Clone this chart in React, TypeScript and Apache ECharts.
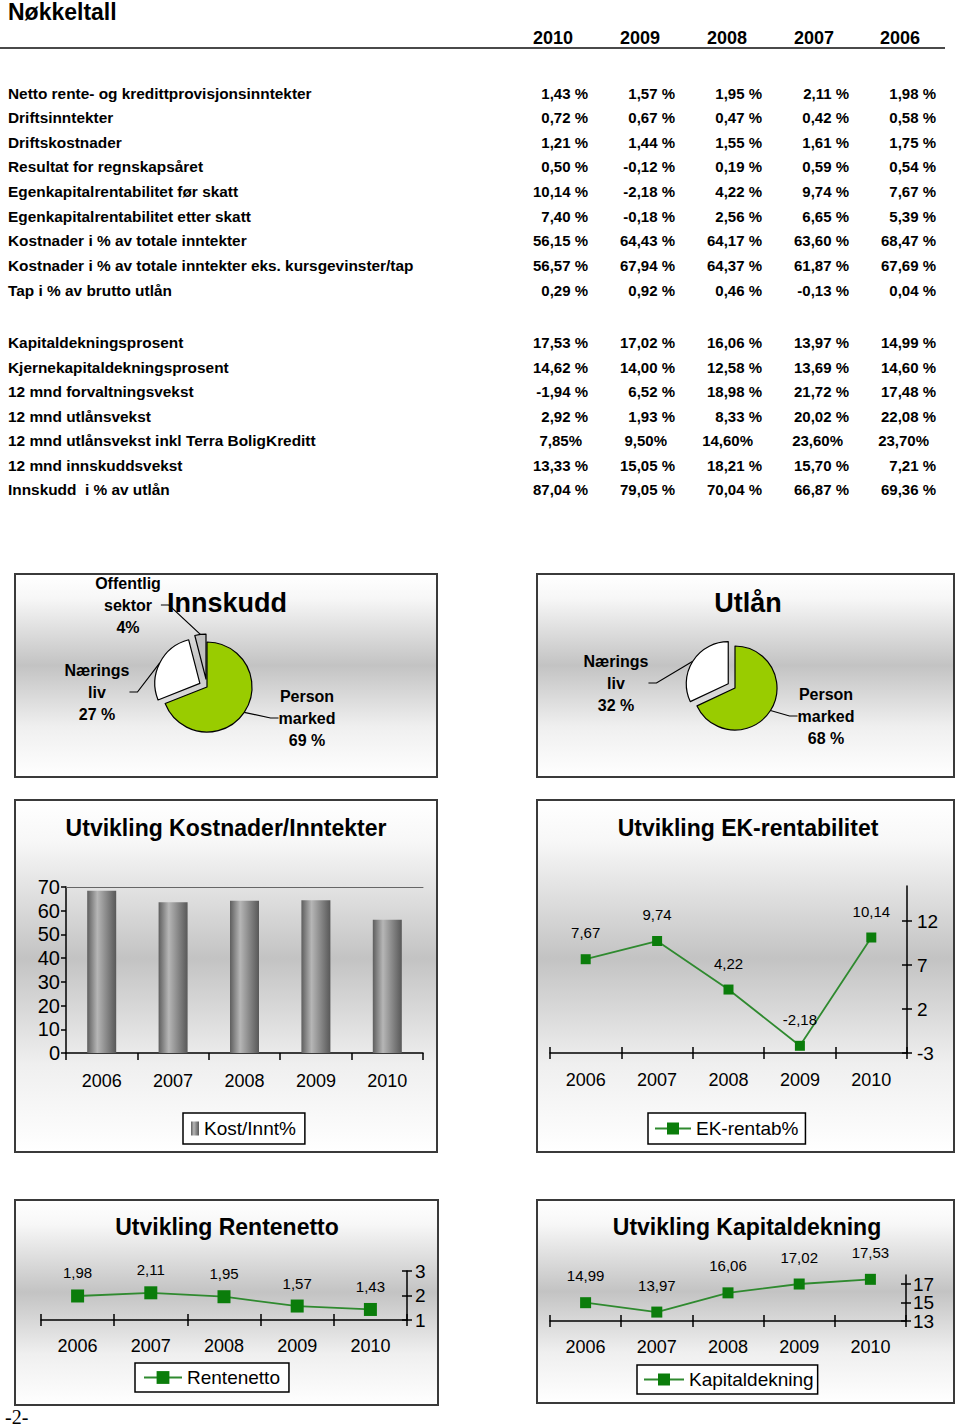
import React, { useEffect, useRef } from 'react';
import * as echarts from 'echarts';

const FONT = '"Liberation Sans", Arial, Helvetica, sans-serif';

// ---------- table data ----------
const pageTitle = 'Nøkkeltall';
const tableYears = ['2010', '2009', '2008', '2007', '2006'];

const resultLabels = [
  'Netto rente- og kredittprovisjonsinntekter',
  'Driftsinntekter',
  'Driftskostnader',
  'Resultat for regnskapsåret',
  'Egenkapitalrentabilitet før skatt',
  'Egenkapitalrentabilitet etter skatt',
  'Kostnader i % av totale inntekter',
  'Kostnader i % av totale inntekter eks. kursgevinster/tap',
  'Tap i % av brutto utlån',
];
const resultValues = [
  ['1,43 %', '1,57 %', '1,95 %', '2,11 %', '1,98 %'],
  ['0,72 %', '0,67 %', '0,47 %', '0,42 %', '0,58 %'],
  ['1,21 %', '1,44 %', '1,55 %', '1,61 %', '1,75 %'],
  ['0,50 %', '-0,12 %', '0,19 %', '0,59 %', '0,54 %'],
  ['10,14 %', '-2,18 %', '4,22 %', '9,74 %', '7,67 %'],
  ['7,40 %', '-0,18 %', '2,56 %', '6,65 %', '5,39 %'],
  ['56,15 %', '64,43 %', '64,17 %', '63,60 %', '68,47 %'],
  ['56,57 %', '67,94 %', '64,37 %', '61,87 %', '67,69 %'],
  ['0,29 %', '0,92 %', '0,46 %', '-0,13 %', '0,04 %'],
];
const balanceLabels = [
  'Kapitaldekningsprosent',
  'Kjernekapitaldekningsprosent',
  '12 mnd forvaltningsvekst',
  '12 mnd utlånsvekst',
  '12 mnd utlånsvekst inkl Terra BoligKreditt',
  '12 mnd innskuddsvekst',
  'Innskudd  i % av utlån',
];
const balanceValues = [
  ['17,53 %', '17,02 %', '16,06 %', '13,97 %', '14,99 %'],
  ['14,62 %', '14,00 %', '12,58 %', '13,69 %', '14,60 %'],
  ['-1,94 %', '6,52 %', '18,98 %', '21,72 %', '17,48 %'],
  ['2,92 %', '1,93 %', '8,33 %', '20,02 %', '22,08 %'],
  ['7,85%', '9,50%', '14,60%', '23,60%', '23,70%'],
  ['13,33 %', '15,05 %', '18,21 %', '15,70 %', '7,21 %'],
  ['87,04 %', '79,05 %', '70,04 %', '66,87 %', '69,36 %'],
];

// ---------- chart data ----------
const chartYears = ['2006', '2007', '2008', '2009', '2010'];
const kostInntValues = [68.47, 63.6, 64.17, 64.43, 56.15];
const ekRentabValues = [7.67, 9.74, 4.22, -2.18, 10.14];
const rentenettoValues = [1.98, 2.11, 1.95, 1.57, 1.43];
const kapitalValues = [14.99, 13.97, 16.06, 17.02, 17.53];
const ekTicks = [-3, 2, 7, 12];
const renteTicks = [1, 2, 3];
const kapitalTicks = [13, 15, 17];

const innskuddNames = ['Person marked', 'Nærings liv', 'Offentlig sektor'];
const innskuddValues = [69, 27, 4];
const innskuddPct = ['69 %', '27 %', '4%'];
const utlanNames = ['Person marked', 'Nærings liv'];
const utlanValues = [68, 32];
const utlanPct = ['68 %', '32 %'];

const chartTitles = {
  innskudd: 'Innskudd',
  utlan: 'Utlån',
  kost: 'Utvikling Kostnader/Inntekter',
  ek: 'Utvikling EK-rentabilitet',
  rente: 'Utvikling Rentenetto',
  kapital: 'Utvikling Kapitaldekning',
};
const seriesNames = {
  kost: 'Kost/Innt%',
  ek: 'EK-rentab%',
  rente: 'Rentenetto',
  kapital: 'Kapitaldekning',
};

// ---------- layout ----------
const VALUE_RIGHT = [588, 675, 762, 849, 936];
const VALUE_RIGHT_ALT = [582, 667, 753, 843, 929];
const YEAR_CX = [553, 640, 727, 814, 900];
const ROW_A_Y0 = 93;
const ROW_A_STEP = 24.65;
const ROW_B_Y0 = 342.5;
const ROW_B_STEP = 24.5;

const BOXES = [
  [15, 574, 422, 203],
  [537, 574, 417, 203],
  [15, 800, 422, 352],
  [537, 800, 417, 352],
  [15, 1200, 423, 205],
  [537, 1200, 417, 203],
];

const GREEN_LINE = '#2f8a2f';
const GREEN_MARK = '#0b7d0b';
const AXIS_LINE = { color: '#000', width: 1.5 };

function boxFill() {
  return new echarts.graphic.LinearGradient(0, 0, 0, 1, [
    { offset: 0, color: '#ffffff' },
    { offset: 0.12, color: '#f7f7f7' },
    { offset: 0.45, color: '#c3c3c3' },
    { offset: 0.75, color: '#efefef' },
    { offset: 1, color: '#ffffff' },
  ]);
}

function txt(text: string, x: number, y: number, size: number, opts: any = {}) {
  return {
    type: 'text',
    x,
    y,
    z: 10,
    silent: true,
    style: {
      text,
      fontSize: size,
      fontWeight: opts.weight ?? 'bold',
      fontFamily: opts.family ?? FONT,
      fill: '#000',
      align: opts.align ?? 'left',
      verticalAlign: 'middle',
    },
  };
}

const fmt = (v: number) => v.toFixed(2).replace('.', ',');

function buildOption() {
  const graphic: any[] = [];
  BOXES.forEach(([x, y, w, h]) => {
    graphic.push({
      type: 'rect',
      z: -10,
      silent: true,
      shape: { x, y, width: w, height: h },
      style: { fill: boxFill(), stroke: '#3a3a3a', lineWidth: 2 },
    });
  });
  graphic.push(txt(pageTitle, 8, 12, 23));
  tableYears.forEach((yr, i) => graphic.push(txt(yr, YEAR_CX[i], 38, 18, { align: 'center' })));
  graphic.push({
    type: 'line',
    z: 10,
    silent: true,
    shape: { x1: 0, y1: 48, x2: 945, y2: 48 },
    style: { stroke: '#4a4a4a', lineWidth: 2 },
  });
  const addRows = (labels: string[], values: string[][], y0: number, step: number) => {
    labels.forEach((lab, r) => {
      const y = y0 + r * step;
      graphic.push(txt(lab, 8, y, 15.4));
      values[r].forEach((v, c) => {
        const xr = v.endsWith(' %') ? VALUE_RIGHT[c] : VALUE_RIGHT_ALT[c];
        graphic.push(txt(v, xr, y, 15, { align: 'right' }));
      });
    });
  };
  addRows(resultLabels, resultValues, ROW_A_Y0, ROW_A_STEP);
  addRows(balanceLabels, balanceValues, ROW_B_Y0, ROW_B_STEP);

  graphic.push(txt(chartTitles.innskudd, 227, 603, 27, { align: 'center' }));
  graphic.push(txt(chartTitles.utlan, 748, 603, 27, { align: 'center' }));
  graphic.push(txt(chartTitles.kost, 226, 828, 23, { align: 'center' }));
  graphic.push(txt(chartTitles.ek, 748, 828, 23, { align: 'center' }));
  graphic.push(txt(chartTitles.rente, 227, 1227, 23, { align: 'center' }));
  graphic.push(txt(chartTitles.kapital, 747, 1227, 23, { align: 'center' }));
  graphic.push(txt('-2-', 5, 1417, 20, { weight: 'normal', family: '"Liberation Serif", "DejaVu Serif", serif' }));

  const grid: any[] = [];
  const xAxis: any[] = [];
  const yAxis: any[] = [];
  const series: any[] = [];

  // ----- bar chart -----
  grid.push({ left: 66, top: 887, width: 357, height: 166, outerBoundsMode: 'none', containLabel: false });
  xAxis.push({
    type: 'category',
    gridIndex: 0,
    position: 'bottom',
    data: chartYears,
    boundaryGap: true,
    axisLine: { show: true, onZero: false, lineStyle: AXIS_LINE },
    axisTick: { show: true, length: 7, lineStyle: AXIS_LINE },
    axisLabel: { margin: 19, fontSize: 18, color: '#000', fontFamily: FONT },
  });
  xAxis.push({
    type: 'category',
    gridIndex: 0,
    position: 'top',
    data: chartYears,
    axisLine: { show: true, onZero: false, lineStyle: { color: '#666', width: 1 } },
    axisTick: { show: false },
    axisLabel: { show: false },
  });
  yAxis.push({
    type: 'value',
    gridIndex: 0,
    position: 'left',
    min: 0,
    max: 70,
    interval: 10,
    splitLine: { show: false },
    axisLine: { show: true, lineStyle: AXIS_LINE },
    axisTick: { show: true, length: 5, lineStyle: AXIS_LINE },
    axisLabel: { margin: 6, fontSize: 20, lineHeight: 18, color: '#000', fontFamily: FONT, showMinLabel: true, showMaxLabel: true },
  });
  series.push({
    type: 'bar',
    name: seriesNames.kost,
    xAxisIndex: 0,
    yAxisIndex: 0,
    barWidth: 29,
    data: kostInntValues,
    itemStyle: {
      color: new echarts.graphic.LinearGradient(0, 0, 1, 0, [
        { offset: 0, color: '#5e5e5e' },
        { offset: 0.35, color: '#b6b6b6' },
        { offset: 1, color: '#585858' },
      ]),
    },
  });

  // ----- line charts -----
  const addLine = (cfg: any) => {
    const gi = grid.length;
    grid.push({ left: cfg.left, top: cfg.top, width: cfg.width, height: cfg.height, outerBoundsMode: 'none', containLabel: false });
    const xi = xAxis.length;
    const xBase = { type: 'category', gridIndex: gi, position: 'bottom', data: chartYears, boundaryGap: true };
    xAxis.push({
      ...xBase,
      axisLine: { show: true, onZero: false, lineStyle: AXIS_LINE },
      axisTick: { show: true, inside: false, length: 6, lineStyle: AXIS_LINE },
      axisLabel: { margin: cfg.xMargin, fontSize: 18, color: '#000', fontFamily: FONT },
    });
    xAxis.push({
      ...xBase,
      axisLine: { show: false, onZero: false },
      axisTick: { show: true, inside: true, length: 6, lineStyle: AXIS_LINE },
      axisLabel: { show: false },
    });
    const yi = yAxis.length;
    const ticks: number[] = cfg.ticks;
    // labels split over the two overlaid axes so that close labels are never auto-hidden
    const labelsA = ticks.filter((_, i) => i % 2 === 0);
    const labelsB = ticks.filter((_, i) => i % 2 === 1);
    const yLabel = {
      margin: cfg.yMargin,
      fontSize: 19,
      color: '#000',
      fontFamily: FONT,
      showMinLabel: true,
      showMaxLabel: true,
      hideOverlap: false,
    };
    const yBase = { type: 'value', gridIndex: gi, position: 'right', min: cfg.min, max: cfg.max, splitLine: { show: false } };
    yAxis.push({
      ...yBase,
      axisLine: { show: true, lineStyle: AXIS_LINE },
      axisTick: { show: true, inside: false, length: 5, customValues: ticks, lineStyle: AXIS_LINE },
      axisLabel: { ...yLabel, customValues: labelsA },
    });
    yAxis.push({
      ...yBase,
      axisLine: { show: false },
      axisTick: { show: true, inside: true, length: 5, customValues: ticks, lineStyle: AXIS_LINE },
      axisLabel: { ...yLabel, show: labelsB.length > 0, customValues: labelsB },
    });
    series.push({
      type: 'line',
      name: cfg.name,
      xAxisIndex: xi,
      yAxisIndex: yi,
      data: cfg.data,
      symbol: 'rect',
      symbolSize: cfg.symbolSize,
      lineStyle: { color: GREEN_LINE, width: 1.8 },
      itemStyle: { color: GREEN_MARK },
      label: {
        show: true,
        position: 'top',
        distance: cfg.labelDist,
        formatter: (p: any) => fmt(p.value),
        fontSize: 15,
        color: '#000',
        fontFamily: FONT,
      },
    });
  };
  addLine({ left: 550, top: 886, width: 357, height: 167, min: -3, max: 16, ticks: ekTicks, data: ekRentabValues, name: seriesNames.ek, symbolSize: 10, labelDist: 14, xMargin: 18, yMargin: 10 });
  addLine({ left: 41, top: 1271, width: 366, height: 49, min: 1, max: 3, ticks: renteTicks, data: rentenettoValues, name: seriesNames.rente, symbolSize: 13, labelDist: 9, xMargin: 17, yMargin: 8 });
  addLine({ left: 550, top: 1275, width: 356, height: 46, min: 13, max: 18, ticks: kapitalTicks, data: kapitalValues, name: seriesNames.kapital, symbolSize: 11, labelDist: 14, xMargin: 17, yMargin: 7 });

  // ----- pies: one series per slice so that exploded slices are offset from the centre -----
  const pieSlices = (
    center: number[],
    r: number,
    explode: number,
    names: string[],
    values: number[],
    pct: string[],
    colors: string[],
    labelPos: number[][],
  ) => {
    const total = values.reduce((a, b) => a + b, 0);
    let cum = 0;
    return values.map((v, i) => {
      const midDeg = 90 - ((cum + v / 2) / total) * 360;
      cum += v;
      const off = i === 0 ? 0 : explode;
      const rad = (midDeg * Math.PI) / 180;
      const c = [center[0] + Math.cos(rad) * off, center[1] - Math.sin(rad) * off];
      return {
        type: 'pie',
        center: c,
        radius: r,
        startAngle: 90,
        clockwise: true,
        silent: true,
        avoidLabelOverlap: false,
        emphasis: { disabled: true },
        label: {
          show: true,
          position: 'outside',
          formatter: (p: any) => names[p.dataIndex].replace(' ', '\n') + '\n' + pct[p.dataIndex],
          fontSize: 16,
          fontWeight: 'bold',
          lineHeight: 22,
          color: '#000',
          fontFamily: FONT,
          align: 'center',
        },
        labelLine: { show: true, length: 8, length2: 8, lineStyle: { color: '#000', width: 1.2 } },
        labelLayout: (p: any) => ({
          x: labelPos[p.dataIndex][0],
          y: labelPos[p.dataIndex][1],
          align: 'center',
          verticalAlign: 'middle',
        }),
        data: values.map((w, j) =>
          j === i
            ? { name: names[j], value: w, itemStyle: { color: colors[j], borderColor: '#000', borderWidth: 1.2 } }
            : {
                name: names[j],
                value: w,
                itemStyle: { color: 'rgba(0,0,0,0)', borderWidth: 0 },
                label: { show: false },
                labelLine: { show: false },
              },
        ),
      };
    });
  };
  series.push(
    ...pieSlices([207, 687], 45, 8, innskuddNames, innskuddValues, innskuddPct, ['#99cc00', '#ffffff', '#c0c0c0'], [
      [307, 718],
      [97, 692],
      [128, 605],
    ]),
  );
  series.push(
    ...pieSlices([735, 688], 42, 8, utlanNames, utlanValues, utlanPct, ['#99cc00', '#ffffff'], [
      [826, 716],
      [616, 683],
    ]),
  );

  const legendBase = {
    backgroundColor: '#ffffff',
    borderColor: '#000',
    borderWidth: 1.5,
    borderRadius: 0,
    orient: 'horizontal',
    textStyle: { fontSize: 19, color: '#000', fontFamily: FONT },
    selectedMode: false,
  };
  const legend = [
    { ...legendBase, data: [seriesNames.kost], left: 183, top: 1113, padding: [6, 9, 6, 8], icon: 'rect', itemWidth: 8, itemHeight: 14 },
    { ...legendBase, data: [seriesNames.ek], left: 648, top: 1113, padding: [6, 7, 6, 6], itemWidth: 36, itemHeight: 15 },
    { ...legendBase, data: [seriesNames.rente], left: 135, top: 1363, padding: [5, 9, 5, 8], itemWidth: 38, itemHeight: 16 },
    { ...legendBase, data: [seriesNames.kapital], left: 637, top: 1365, padding: [5, 4, 5, 6], itemWidth: 40, itemHeight: 15 },
  ];

  return {
    animation: false,
    backgroundColor: '#ffffff',
    textStyle: { fontFamily: FONT },
    grid,
    xAxis,
    yAxis,
    series,
    legend,
    graphic,
  };
}

export default function App() {
  const ref = useRef<HTMLDivElement>(null);
  useEffect(() => {
    const chart = echarts.init(ref.current as HTMLDivElement, null, { renderer: 'svg' });
    chart.setOption(buildOption() as any);
    return () => chart.dispose();
  }, []);
  return (
    <div
      ref={ref}
      style={{ position: 'absolute', left: 0, top: 0, width: 960, height: 1427, background: '#fff' }}
    />
  );
}
